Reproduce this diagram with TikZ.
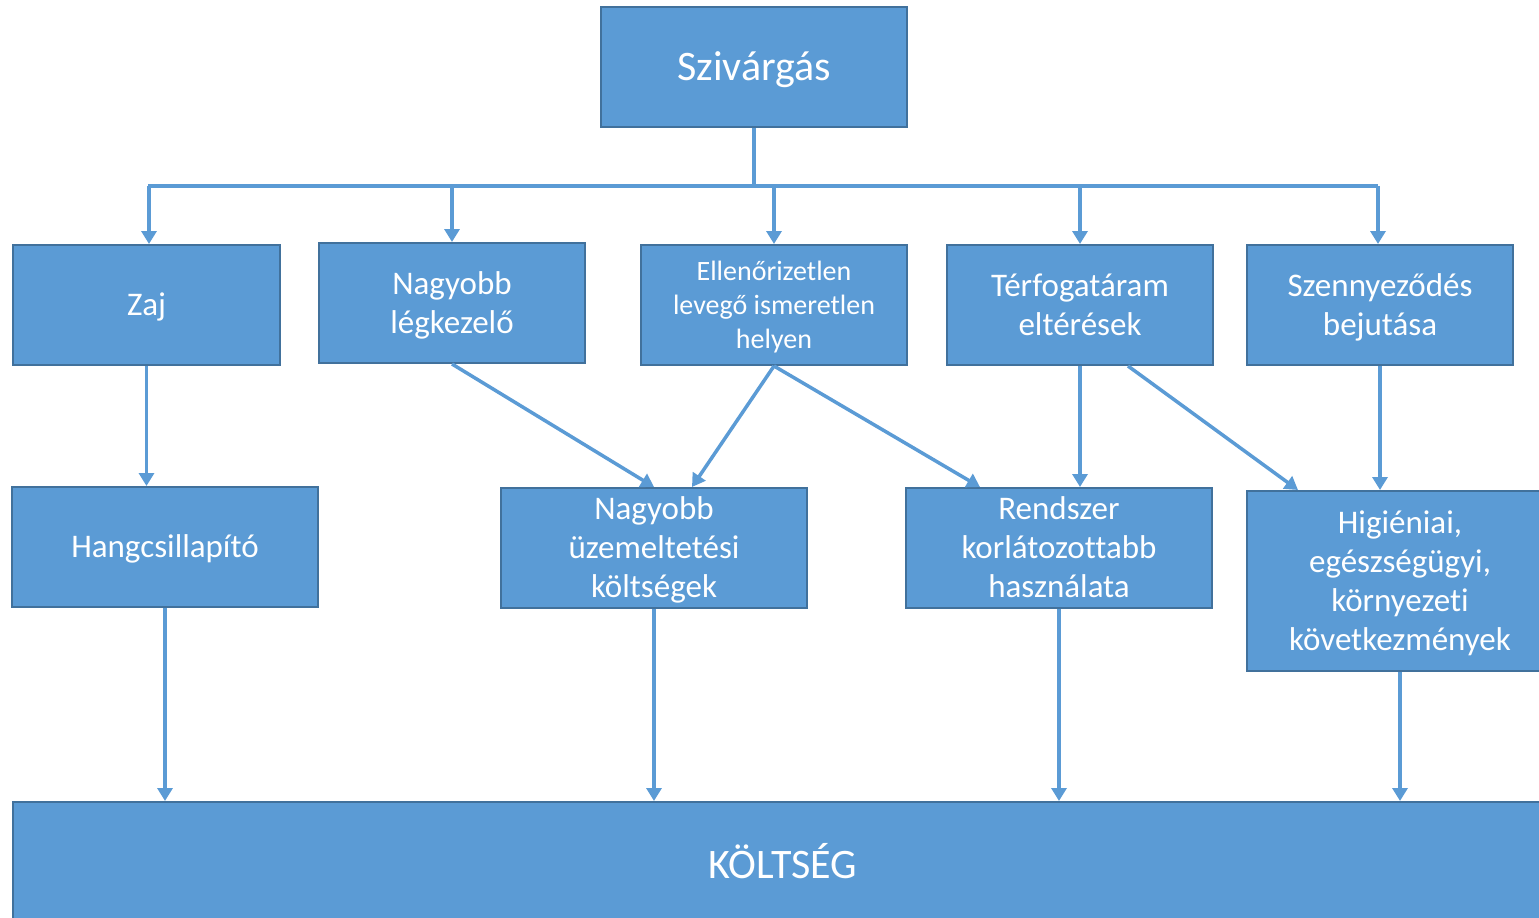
\documentclass[tikz,border=0pt]{standalone}
\usepackage{fontspec}
\setmainfont{Carlito}[Ligatures=NoCommon]
\usetikzlibrary{arrows.meta,calc}
\definecolor{boxfill}{HTML}{5B9BD5}
\definecolor{boxline}{HTML}{41719C}
\definecolor{conn}{HTML}{5B9BD5}
\newcommand{\dtext}[1]{\raisebox{-3pt}[\height][\depth]{\begin{tabular}{@{}c@{}}#1\end{tabular}}}
\tikzset{
  box/.style={draw=boxline, line width=2pt, fill=boxfill, text=white, align=center, inner sep=0pt},
  big/.style={font=\fontsize{42}{50}\selectfont},
  mid/.style={font=\fontsize{33}{39}\selectfont},
  small/.style={font=\fontsize{28}{34}\selectfont},
  conn/.style={draw=conn, line width=3.5pt, -{Triangle[width=15pt,length=13pt]}},
  bus/.style={draw=conn, line width=4.5pt}
}
\begin{document}
\begin{tikzpicture}[x=1pt,y=-1pt]
\useasboundingbox (0,0) rectangle (1539,918);
\clip (0,0) rectangle (1539,918);
% top
\node[box,big,minimum width=306pt,minimum height=120pt] (sz) at (754,67) {\dtext{Szivárgás}};
% row 1
\node[box,mid,minimum width=267pt,minimum height=120pt] (zaj) at (146.5,305) {\dtext{Zaj}};
\node[box,mid,minimum width=266pt,minimum height=120pt] (nl) at (452,303) {\dtext{Nagyobb\\légkezelő}};
\node[box,small,minimum width=266pt,minimum height=120pt] (ell) at (774,305) {\dtext{Ellenőrizetlen\\levegő ismeretlen\\helyen}};
\node[box,mid,minimum width=266pt,minimum height=120pt] (terf) at (1080,305) {\dtext{Térfogatáram\\eltérések}};
\node[box,mid,minimum width=266pt,minimum height=120pt] (szen) at (1380,305) {\dtext{Szennyeződés\\bejutása}};
% row 2
\node[box,mid,minimum width=306pt,minimum height=120pt] (hang) at (165,547) {\dtext{Hangcsillapító}};
\node[box,mid,minimum width=306pt,minimum height=120pt] (nu) at (654,548) {\dtext{Nagyobb\\üzemeltetési\\költségek}};
\node[box,mid,minimum width=306pt,minimum height=120pt] (rs) at (1059,548) {\dtext{Rendszer\\korlátozottabb\\használata}};
\node[box,mid,minimum width=306pt,minimum height=180pt] (hig) at (1400,581) {\dtext{Higiéniai,\\egészségügyi,\\környezeti\\következmények}};
% bottom
\node[box,big,minimum width=1540pt,minimum height=160pt] (ko) at (783,882) {};
\node[text=white,big] (kot) at (783,861) {KÖLTSÉG};
% bus
\coordinate (bc) at (754,186);
\coordinate (bl) at (148,186);
\coordinate (br) at (1378,186);
\draw[bus] (sz.south) -- (bc);
\draw[bus] (bl) -- (br);
\coordinate (b1) at (149,186);
\coordinate (b2) at (452,186);
\coordinate (b3) at (774,186);
\coordinate (b4) at (1080,186);
\coordinate (b5) at (1378,186);
\draw[conn] (b1) -- (b1 |- zaj.north);
\draw[conn] (b2) -- (b2 |- nl.north);
\draw[conn] (b3) -- (b3 |- ell.north);
\draw[conn] (b4) -- (b4 |- terf.north);
\draw[conn] (b5) -- (b5 |- szen.north);
% row1 -> row2
\draw[conn] (zaj.south) -- (zaj.south |- hang.north);
\draw[conn] (nl.south) -- (nu.north);
\draw[conn] (ell.south) -- ($(nu.north)+(38,0)$);
\draw[conn] (ell.south) -- ($(rs.north)+(-79,0)$);
\draw[conn] (terf.south) -- (terf.south |- rs.north);
\draw[conn] ($(terf.south)+(48,0)$) -- ($(hig.north)+(-102,0)$);
\draw[conn] (szen.south) -- (szen.south |- hig.north);
% row2 -> cost
\draw[conn] (hang.south) -- (hang.south |- ko.north);
\draw[conn] (nu.south) -- (nu.south |- ko.north);
\draw[conn] (rs.south) -- (rs.south |- ko.north);
\draw[conn] (hig.south) -- (hig.south |- ko.north);
\end{tikzpicture}
\end{document}
